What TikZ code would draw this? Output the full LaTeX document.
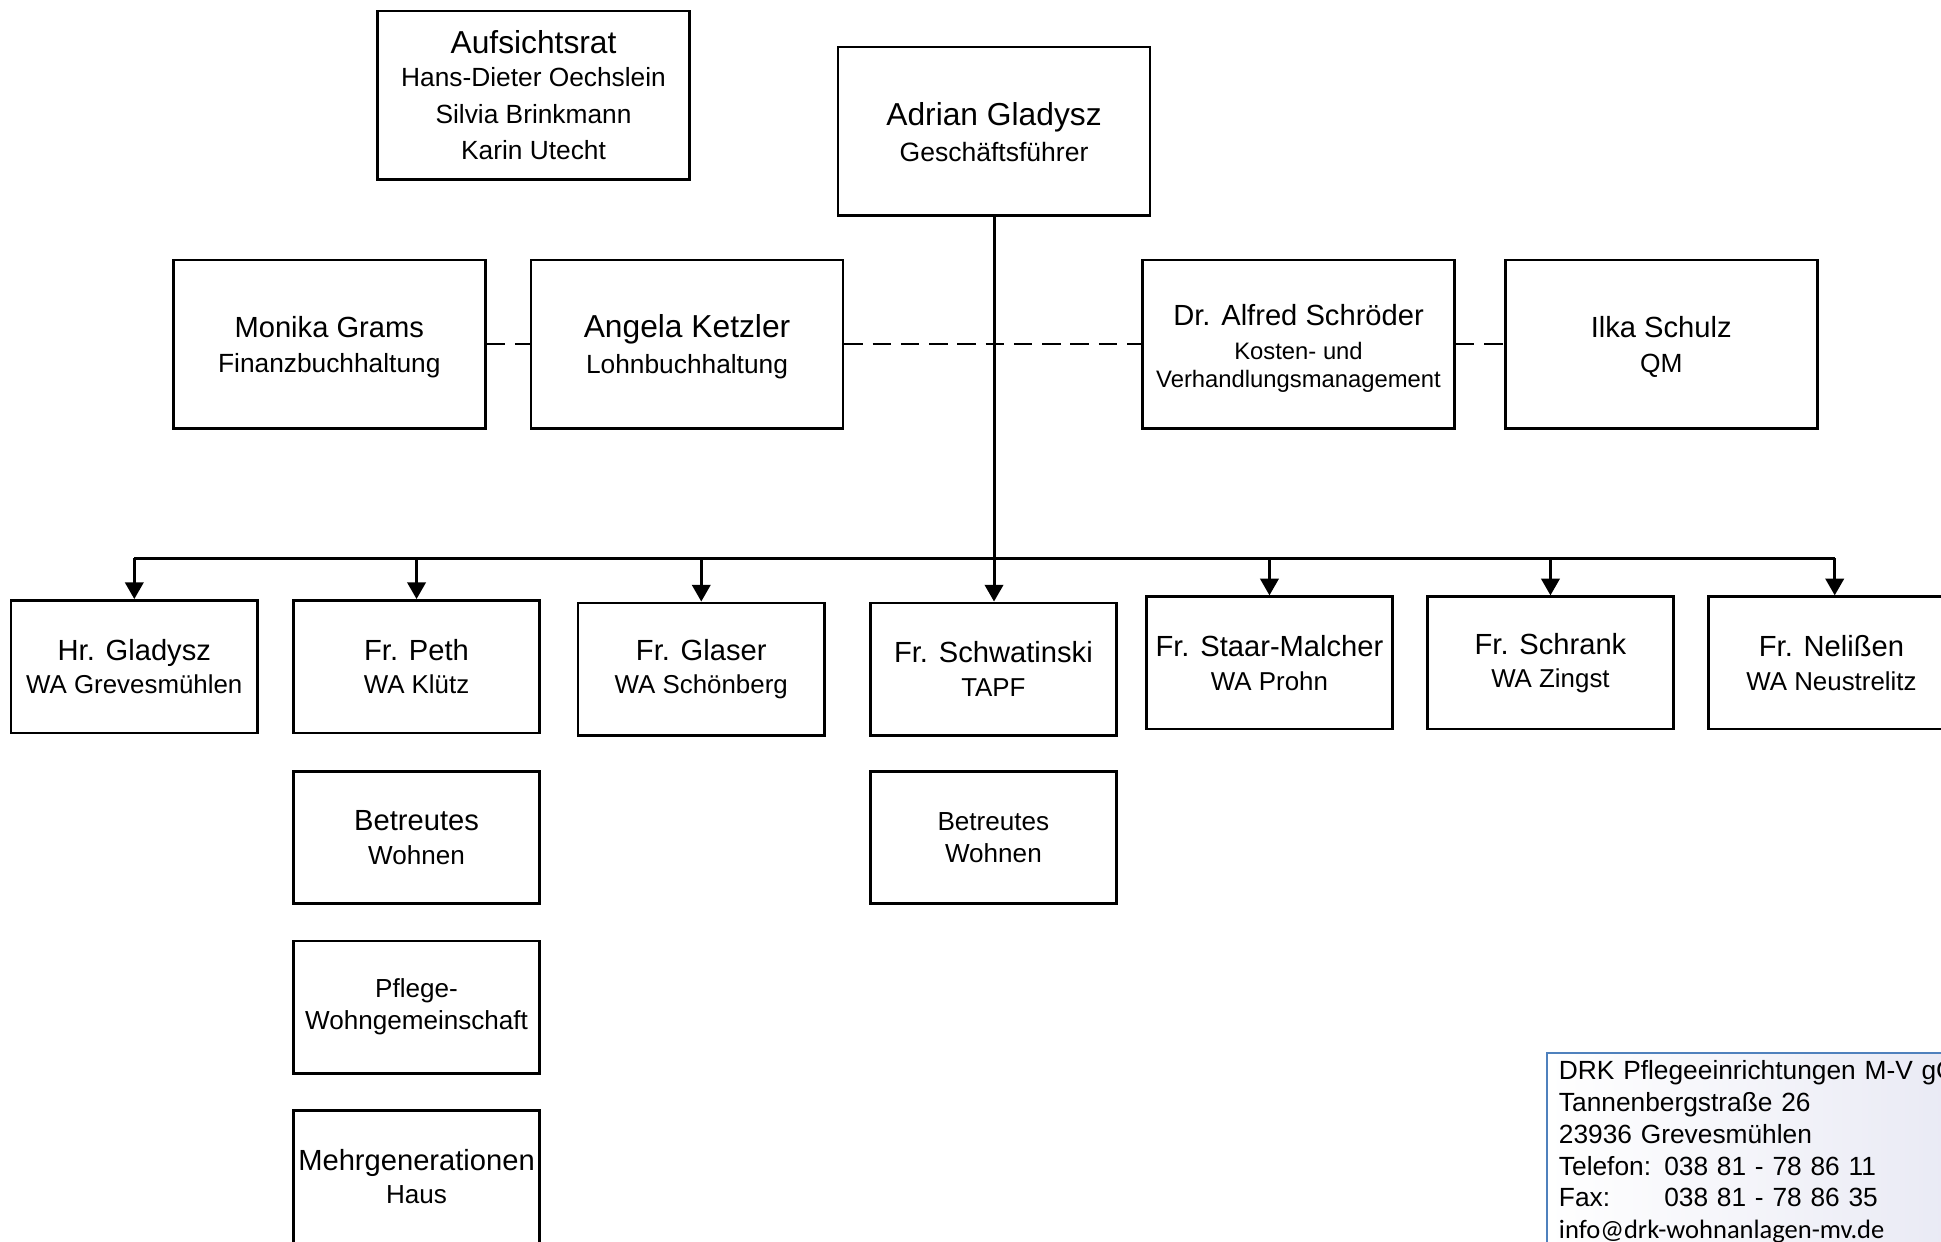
\documentclass[tikz,border=0pt]{standalone}
\usepackage{fontspec}
\setmainfont{Liberation Sans}
\newfontfamily\carlitofont{Carlito}
\usetikzlibrary{arrows.meta}
\definecolor{addrblue}{RGB}{79,129,189}
\definecolor{addrfill}{RGB}{228,229,242}
\newcommand\szBig{\fontsize{14.6}{17}\selectfont}
\newcommand\szMid{\fontsize{13.4}{16}\selectfont}
\newcommand\topstrut[1]{\rule{0pt}{#1}}
\tikzset{
  orgbox/.style={draw, line width=1.2pt, minimum width=5.04cm, minimum height=2.72cm, inner sep=0pt, align=center},
  smallbox/.style={orgbox, minimum width=3.98cm, minimum height=2.14cm},
  conn/.style={line width=1.4pt},
  arr/.style={conn, -{Triangle[length=7.7pt,width=8.4pt]}},
  dashline/.style={line width=1.2pt, dash pattern=on 8.5pt off 4.5pt},
}
\begin{document}
\begin{tikzpicture}[x=0.02cm,y=-0.02cm]
\useasboundingbox (0,0) rectangle (1568,1003.3);
\clip (0,0) rectangle (1568,1003.3);
\fill[white] (0,0) rectangle (1568,1003.3);

% top level
\node[orgbox, font=\fontsize{12.1}{16.8}\selectfont] (auf) at (431,77)
  {{\szBig Aufsichtsrat}\\[-1.4pt]Hans-Dieter Oechslein\\Silvia Brinkmann\\Karin Utecht};
\node[orgbox, font=\fontsize{12.2}{16.5}\selectfont] (adrian) at (803,106)
  {{\szBig\topstrut{11.5pt}Adrian Gladysz}\\Geschäftsführer};

% staff row
\node[orgbox, font=\fontsize{12.1}{16}\selectfont] (monika) at (266,278)
  {{\szMid\topstrut{12.4pt}Monika Grams}\\Finanzbuchhaltung};
\node[orgbox, font=\fontsize{12.1}{16.5}\selectfont] (angela) at (555,278)
  {{\szBig\topstrut{13.3pt}Angela Ketzler}\\Lohnbuchhaltung};
\node[orgbox, font=\fontsize{10.95}{13}\selectfont] (schroeder) at (1049,278)
  {{\szMid\topstrut{13.8pt}Dr. Alfred Schröder}\\[2.4pt]Kosten- und\\Verhandlungsmanagement};
\node[orgbox, font=\fontsize{12.1}{16}\selectfont] (ilka) at (1342,278)
  {{\szMid\topstrut{12.4pt}Ilka Schulz}\\QM};

% row 3
\node[smallbox, font=\fontsize{11.9}{15.4}\selectfont] (hr) at (108.5,538.5)
  {{\szMid Hr. Gladysz}\\WA Grevesmühlen};
\node[smallbox, font=\fontsize{11.9}{15.4}\selectfont] (peth) at (336.5,538.5)
  {{\szMid Fr. Peth}\\WA Klütz};
\node[smallbox, font=\fontsize{11.9}{15.4}\selectfont] (glaser) at (566.5,540.5)
  {{\szMid Fr. Glaser}\\WA Schönberg};
\node[smallbox, font=\fontsize{11.9}{15.4}\selectfont] (schw) at (802.5,540.5)
  {{\szMid Fr. Schwatinski}\\TAPF};
\node[smallbox, font=\fontsize{11.9}{15.4}\selectfont] (staar) at (1025.5,535.5)
  {{\szMid Fr. Staar-Malcher}\\WA Prohn};
\node[smallbox, font=\fontsize{11.9}{15.4}\selectfont] (schrank) at (1252.5,535.5)
  {{\szMid Fr. Schrank}\\WA Zingst};
\node[smallbox, font=\fontsize{11.9}{15.4}\selectfont] (nel) at (1479.5,535.5)
  {{\szMid Fr. Nelißen}\\WA Neustrelitz};

% lower boxes
\node[smallbox, font=\fontsize{12}{15.4}\selectfont] (bw1) at (336.5,676.5)
  {{\szMid Betreutes}\\Wohnen};
\node[smallbox, font=\fontsize{12}{14.8}\selectfont] (pwg) at (336.5,813.5)
  {Pflege-\\Wohngemeinschaft};
\node[smallbox, font=\fontsize{12}{15.4}\selectfont] (mgh) at (336.5,950.5)
  {{\szMid Mehrgenerationen}\\Haus};
\node[smallbox, font=\fontsize{12}{14.8}\selectfont] (bw2) at (802.5,676.5)
  {Betreutes\\Wohnen};

% connectors
\coordinate (bus) at (0,451);
\draw[dashline] (monika.east) -- (angela.west);
\draw[dashline] (angela.east) -- (schroeder.west);
\draw[dashline] (schroeder.east) -- (ilka.west);
\draw[arr] (adrian.south) -- (adrian.south |- schw.north);
\draw[conn] (hr.north |- bus) -- ([xshift=1.5]nel.north |- bus);
\draw[arr] (hr.north |- bus) -- (hr.north);
\draw[arr] (peth.north |- bus) -- (peth.north);
\draw[arr] (glaser.north |- bus) -- (glaser.north);
\draw[arr] (staar.north |- bus) -- (staar.north);
\draw[arr] (schrank.north |- bus) -- (schrank.north);
\draw[arr] ([xshift=1.5]nel.north |- bus) -- ([xshift=1.5]nel.north);

% address box
\node[draw=addrblue, line width=0.7pt, left color=white, right color=addrfill,
      minimum width=8cm, minimum height=4.5cm, anchor=north west, inner sep=0pt] (addrbox) at (1249,850) {};
\node[anchor=north west, inner sep=0pt, text width=9cm, align=left,
      font=\fontsize{12.1}{14.6}\selectfont] (addrtext) at (1259,856.5)
  {DRK Pflegeeinrichtungen M-V gGmbH\\
   Tannenbergstraße 26\\
   23936 Grevesmühlen\\
   Telefon: 038 81 - 78 86 11\\
   \leavevmode\rlap{Fax:}\phantom{Telefon: }038 81 - 78 86 35\\
   {\carlitofont\fontsize{12.2}{14.6}\selectfont info@drk-wohnanlagen-mv.de}};
\end{tikzpicture}
\end{document}
